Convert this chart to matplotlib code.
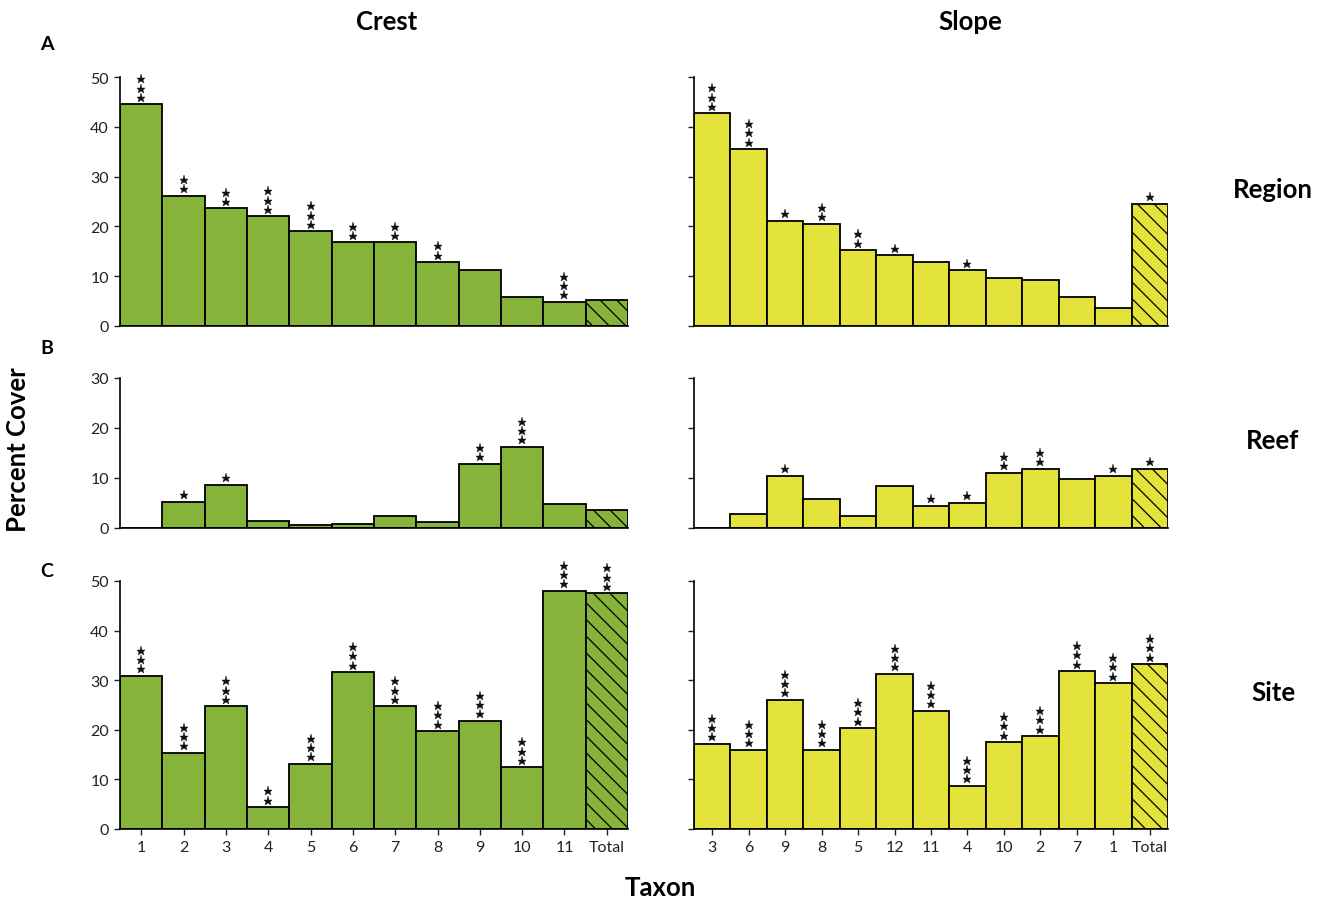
import matplotlib
matplotlib.use('Agg')
from matplotlib import pyplot as plt
from matplotlib import transforms

plt.rcParams['font.family'] = ['Lato', 'DejaVu Sans']
plt.rcParams['hatch.linewidth'] = 0.9

# taxon order on the x axis
crest_taxa = ['1', '2', '3', '4', '5', '6', '7', '8', '9', '10', '11', 'Total']
slope_taxa = ['3', '6', '9', '8', '5', '12', '11', '4', '10', '2', '7', '1', 'Total']

# percent cover
crest_region = [44.5, 26.2, 23.6, 22.0, 19.0, 16.8, 16.8, 12.8, 11.2, 5.8, 4.8, 5.2]
crest_reef = [0.0, 5.3, 8.7, 1.5, 0.6, 0.9, 2.5, 1.2, 12.8, 16.2, 4.9, 3.7]
crest_site = [30.9, 15.3, 24.7, 4.4, 13.1, 31.6, 24.7, 19.7, 21.8, 12.4, 48.0, 47.5]

slope_region = [42.7, 35.5, 21.1, 20.5, 15.2, 14.2, 12.8, 11.2, 9.6, 9.3, 5.8, 3.7, 24.5]
slope_reef = [0.0, 2.8, 10.5, 5.9, 2.4, 8.4, 4.5, 5.0, 11.1, 11.9, 9.9, 10.5, 11.9]
slope_site = [17.2, 15.9, 26.0, 15.9, 20.3, 31.3, 23.8, 8.7, 17.5, 18.7, 31.8, 29.4, 33.2]

# number of significance stars above each bar
crest_region_sig = [3, 2, 2, 3, 3, 2, 2, 2, 0, 0, 3, 0]
crest_reef_sig = [0, 1, 1, 0, 0, 0, 0, 0, 2, 3, 0, 0]
crest_site_sig = [3, 3, 3, 2, 3, 3, 3, 3, 3, 3, 3, 3]
slope_region_sig = [3, 3, 1, 2, 2, 1, 0, 1, 0, 0, 0, 0, 1]
slope_reef_sig = [0, 0, 1, 0, 0, 0, 1, 1, 2, 2, 0, 1, 1]
slope_site_sig = [3, 3, 3, 3, 3, 3, 3, 3, 3, 3, 3, 3, 3]

rows = [
    (crest_region, crest_region_sig, slope_region, slope_region_sig, 50),
    (crest_reef, crest_reef_sig, slope_reef, slope_reef_sig, 30),
    (crest_site, crest_site_sig, slope_site, slope_site_sig, 50),
]
row_names = ['Region', 'Reef', 'Site']
row_letters = ['A', 'B', 'C']

green = '#86b33a'
yellow = '#e3e33b'

W, H = 1325, 903
fig = plt.figure(figsize=(W / 100, H / 100), dpi=100)

# pixel boxes (top, bottom) for each row
row_px = [(78, 327), (379, 529), (582, 830)]
left_px = (121, 628)
right_px = (695, 1168)


def add_ax(xpx, ypx):
    l = xpx[0] / W
    w = (xpx[1] - xpx[0]) / W
    b = 1 - ypx[1] / H
    h = (ypx[1] - ypx[0]) / H
    return fig.add_axes([l, b, w, h])


def draw_panel(ax, vals, sig, taxa, color, ymax, show_labels, show_xticks):
    x = list(range(len(vals)))
    bars = ax.bar(x, vals, width=1.0, color=color, edgecolor='black', linewidth=1.3)
    bars[-1].set_hatch('\\\\')
    ax.set_xlim(-0.5, len(vals) - 0.5)
    ax.set_ylim(0, ymax)
    ax.set_yticks(range(0, ymax + 1, 10))
    if not show_labels:
        ax.set_yticklabels([])
    for s in ['top', 'right']:
        ax.spines[s].set_visible(False)
    ax.spines['left'].set_linewidth(1.2)
    ax.spines['bottom'].set_linewidth(1.2)
    ax.spines['left'].set_bounds(0, ymax)
    ax.tick_params(axis='y', length=4, width=1, labelsize=11.5, pad=4, colors='#222222')
    if show_xticks:
        ax.set_xticks(x)
        ax.set_xticklabels(taxa)
        ax.tick_params(axis='x', length=4, width=1, labelsize=11.5, pad=4, colors='#222222')
    else:
        ax.set_xticks([])
    # stars stacked above bars
    for xi, v, n in zip(x, vals, sig):
        for k in range(n):
            tr = transforms.offset_copy(ax.transData, fig=fig, x=0, y=4.8 + 6.6 * k, units='points')
            ax.plot(xi, v, marker='*', color='#111111', markersize=6.5,
                    markeredgewidth=0.3, transform=tr, clip_on=False)


for i, (cv, cs, sv, ss, ymax) in enumerate(rows):
    ax_l = add_ax((left_px[0] - 1, left_px[1]), row_px[i])
    draw_panel(ax_l, cv, cs, crest_taxa, green, ymax, True, i == 2)
    ax_r = add_ax((right_px[0] - 1, right_px[1]), row_px[i])
    draw_panel(ax_r, sv, ss, slope_taxa, yellow, ymax, False, i == 2)
    fig.text(1273 / W, 1 - (190, 441, 693)[i] / H, row_names[i], fontsize=18.5,
             fontweight='bold', ha='center', va='center')
    fig.text(47 / W, 1 - (45, 348, 572)[i] / H, row_letters[i], fontsize=14,
             fontweight='bold', ha='center', va='center')

fig.text(387 / W, 1 - 22 / H, 'Crest', fontsize=18.5, fontweight='bold', ha='center', va='center')
fig.text(970 / W, 1 - 22 / H, 'Slope', fontsize=18.5, fontweight='bold', ha='center', va='center')
fig.text(18 / W, 1 - 450 / H, 'Percent Cover', fontsize=18.5, fontweight='bold',
         rotation=90, ha='center', va='center')
fig.text(660 / W, 1 - 888 / H, 'Taxon', fontsize=18.5, fontweight='bold', ha='center', va='center')

fig.savefig('out.png', dpi=100)
